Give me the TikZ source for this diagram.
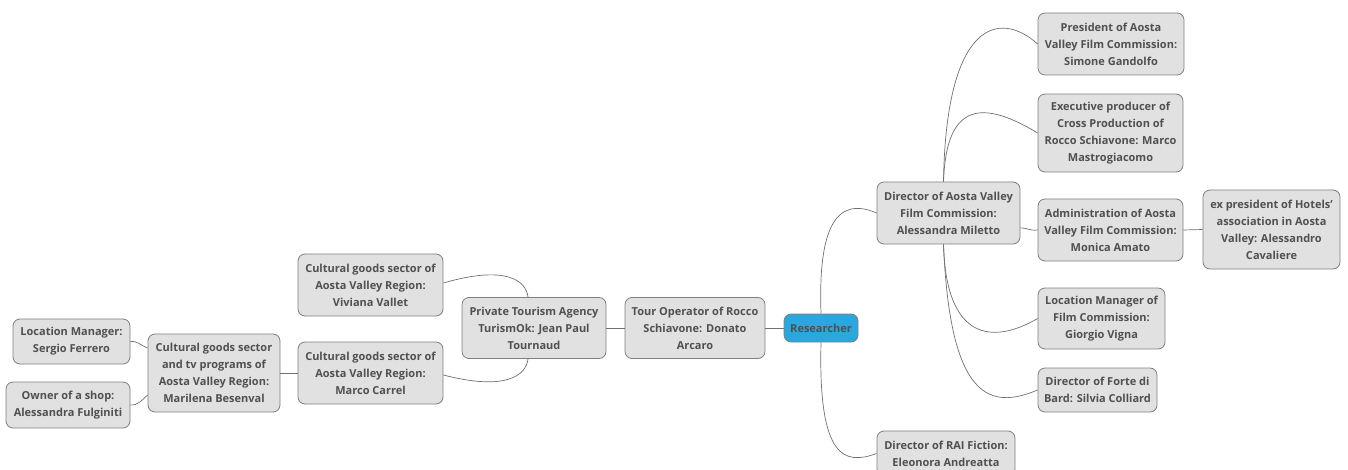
\documentclass[tikz,border=0pt]{standalone}
\usepackage{fontspec}
\setmainfont{Open Sans}
\definecolor{boxfill}{HTML}{E1E1E1}
\definecolor{boxline}{HTML}{7F7F7F}
\definecolor{txt}{HTML}{505050}
\definecolor{rootfill}{HTML}{2AA7DC}
\definecolor{edge}{HTML}{707070}
\begin{document}
\begin{tikzpicture}[x=1pt,y=-1pt,
  box/.style={draw=boxline, fill=boxfill, rounded corners=7pt, align=center,
    font=\fontsize{11}{17}\selectfont\bfseries, text=txt, inner sep=0pt, line width=0.8pt},
  root/.style={box, fill=rootfill, draw=boxline},
  con/.style={draw=edge, line width=0.7pt}]
\useasboundingbox (0,0) rectangle (1348,470);
\node[root, minimum width=74pt, minimum height=28pt] (r) at (821,328) {Researcher};
\node[box, minimum width=140pt, minimum height=61pt] (tour) at (695,328) {Tour Operator of Rocco\\Schiavone: Donato\\Arcaro};
\node[box, minimum width=144pt, minimum height=61pt] (priv) at (534,328) {Private Tourism Agency\\TurismOk: Jean Paul\\Tournaud};
\node[box, minimum width=145pt, minimum height=62pt] (viv) at (370.5,285) {Cultural goods sector of\\Aosta Valley Region:\\Viviana Vallet};
\node[box, minimum width=145pt, minimum height=62pt] (carrel) at (370.5,373) {Cultural goods sector of\\Aosta Valley Region:\\Marco Carrel};
\node[box, minimum width=132pt, minimum height=78pt] (maril) at (214,373) {Cultural goods sector\\and tv programs of\\Aosta Valley Region:\\Marilena Besenval};
\node[box, minimum width=117pt, minimum height=45pt] (sergio) at (71.5,341.5) {Location Manager:\\Sergio Ferrero};
\node[box, minimum width=124pt, minimum height=46pt] (shop) at (68,405) {Owner of a shop:\\Alessandra Fulginiti};
\node[box, minimum width=143pt, minimum height=62pt] (mil) at (948.5,213) {Director of Aosta Valley\\Film Commission:\\Alessandra Miletto};
\node[box, minimum width=138pt, minimum height=45pt] (rai) at (946,453.5) {Director of RAI Fiction:\\Eleonora Andreatta};
\node[box, minimum width=146pt, minimum height=62pt] (pres) at (1111,44) {President of Aosta\\Valley Film Commission:\\Simone Gandolfo};
\node[box, minimum width=145pt, minimum height=78pt] (exec) at (1110.5,133) {Executive producer of\\Cross Production of\\Rocco Schiavone: Marco\\Mastrogiacomo};
\node[box, minimum width=145pt, minimum height=62pt] (adm) at (1110.5,230) {Administration of Aosta\\Valley Film Commission:\\Monica Amato};
\node[box, minimum width=137pt, minimum height=79pt] (hotel) at (1271.5,229.5) {ex president of Hotels'\\association in Aosta\\Valley: Alessandro\\Cavaliere};
\node[box, minimum width=127pt, minimum height=61pt] (locfc) at (1101.5,318.5) {Location Manager of\\Film Commission:\\Giorgio Vigna};
\node[box, minimum width=119pt, minimum height=44pt] (forte) at (1097.5,390) {Director of Forte di\\Bard: Silvia Colliard};
% connectors
\draw[con] (r.west) -- (tour.east);
\draw[con] (tour.west) -- (priv.east);
\draw[con] ([xshift=-6pt]priv.north) .. controls (526,280) and (505,265) .. ([yshift=2pt]viv.east);
\draw[con] ([xshift=-6pt]priv.south) .. controls (526,376) and (505,391) .. ([yshift=-2pt]carrel.east);
\draw[con] (carrel.west) -- (maril.east);
\draw[con] ([yshift=25pt]maril.west) .. controls (140,345) and (138,341) .. (sergio.east);
\draw[con] ([yshift=-22pt]maril.west) .. controls (140,402) and (138,405) .. (shop.east);
\draw[con] (r.north) .. controls (818,230) and (835,195) .. (mil.west);
\draw[con] (r.south) .. controls (818,460) and (845,465) .. (rai.west);
\draw[con] ([xshift=-5pt]mil.north) .. controls (946,20) and (1000,10) .. (pres.west);
\draw[con] ([xshift=-5pt]mil.north) .. controls (946,110) and (975,95) .. (exec.west);
\draw[con] ([yshift=-15pt]mil.east) .. controls (1029,228) and (1029,231) .. (adm.west);
\draw[con] (adm.east) -- (hotel.west);
\draw[con] ([xshift=-5pt]mil.south) .. controls (946,340) and (992,345) .. (locfc.west);
\draw[con] ([xshift=-5pt]mil.south) .. controls (950,400) and (990,410) .. (forte.west);
\end{tikzpicture}
\end{document}
